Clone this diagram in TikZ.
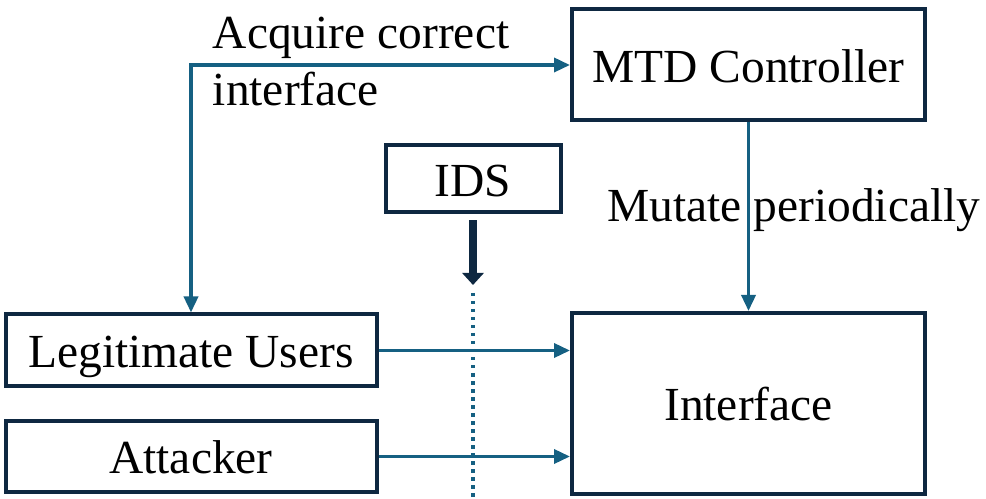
\documentclass[tikz,border=0pt]{standalone}
\usepackage{fontspec}
\setmainfont{Liberation Serif}
\usepackage{tikz}
\usetikzlibrary{arrows.meta}
\definecolor{boxline}{RGB}{14,40,65}
\definecolor{flowblue}{RGB}{21,96,130}
\tikzset{
  boxnode/.style={rectangle,draw=boxline,line width=0.08cm,fill=white,
    inner sep=0pt,text height=25.6pt,text depth=5.9pt,
    font=\fontsize{27}{32.4}\selectfont},
  flowedge/.style={line width=0.07cm,flowblue,
    -{Triangle[length=0.32cm,width=0.28cm]}},
  idsarrow/.style={line width=0.16cm,boxline,
    -{Triangle[length=0.24cm,width=0.42cm]}},
  tapline/.style={line width=0.07cm,flowblue,dash pattern=on 0.07cm off 0.09cm},
  lbl/.style={inner sep=0pt,font=\fontsize{27}{32.4}\selectfont}
}
\begin{document}
\begin{tikzpicture}
  \useasboundingbox (0,0) rectangle (19.72,9.96);

  % boxes
  \node[boxnode,minimum width=7.06cm,minimum height=2.22cm] (mtd) at (14.97,8.66) {MTD Controller};
  \node[boxnode,minimum width=7.06cm,minimum height=3.62cm] (iface) at (14.97,1.89) {Interface};
  \node[boxnode,minimum width=3.5cm,minimum height=1.34cm] (ids) at (9.46,6.38) {IDS};
  \node[boxnode,minimum width=7.42cm,minimum height=1.44cm] (users) at (3.82,2.95) {Legitimate Users};
  \node[boxnode,minimum width=7.42cm,minimum height=1.42cm] (attacker) at (3.82,0.83) {Attacker};

  % labels
  \node[lbl,anchor=north west,align=left] (acqlbl) at (4.25,9.63) {Acquire correct\\interface};
  \node[lbl,anchor=base west] (mutlbl) at (12.14,5.52) {Mutate periodically};

  % connectors
  \draw[flowedge,{Triangle[length=0.32cm,width=0.28cm]}-{Triangle[length=0.32cm,width=0.28cm]}]
    (users.north) |- (mtd.west);
  \draw[flowedge] (mtd.south) -- (iface.north);
  \draw[flowedge] (users.east) -- (users.east -| iface.west);
  \draw[flowedge] (attacker.east) -- (attacker.east -| iface.west);

  % IDS tap
  \coordinate (tapend) at (9.46,4.26);
  \coordinate (taptop) at (9.46,4.1);
  \coordinate (tapbot) at (9.46,0);
  \draw[idsarrow] ([yshift=-0.12cm]ids.south) -- (tapend);
  \draw[tapline] (taptop) -- (tapbot);
\end{tikzpicture}
\end{document}
